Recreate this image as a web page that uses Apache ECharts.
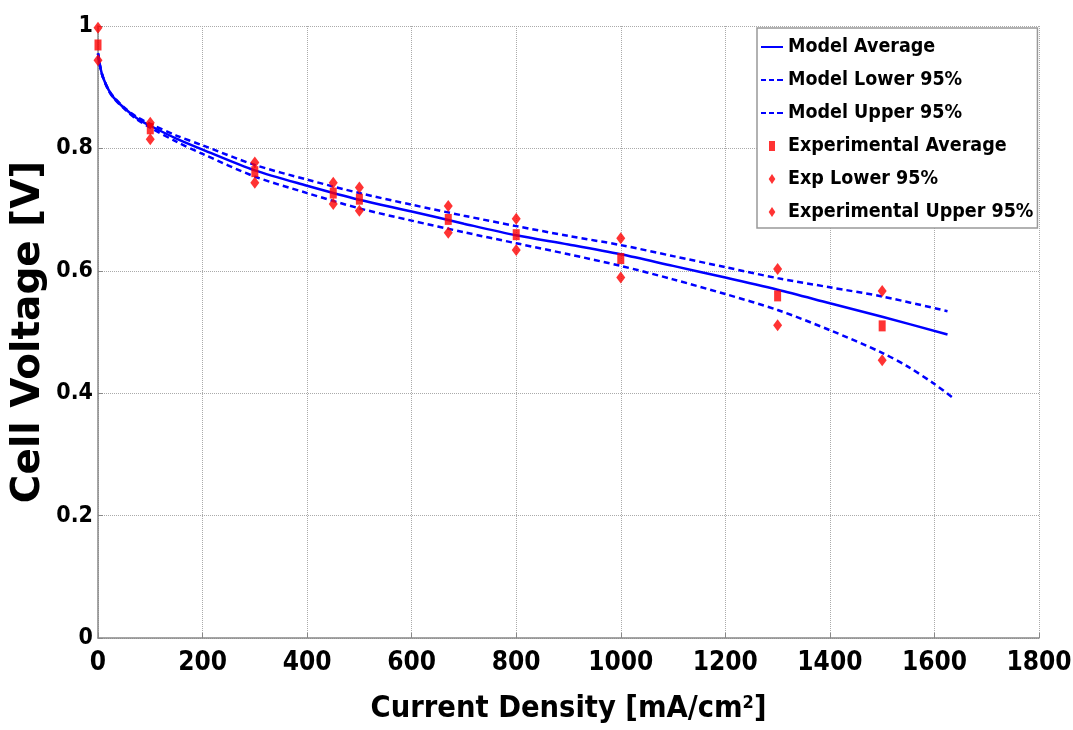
<html>
<head>
<meta charset="utf-8">
<script src="https://cdn.jsdelivr.net/npm/echarts@6/dist/echarts.min.js"></script>
</head>
<body style="margin:0">
<div id="polarization" style="width: 1073px; height: 730px;"></div>

<script type="text/javascript">

// model curves
var modelX     = [0, 5, 10, 20, 30, 50, 75, 100, 150, 200, 300, 400, 500, 600, 700, 800, 900, 1000, 1100, 1200, 1300, 1400, 1500, 1625];
var modelAvg   = [0.955, 0.93, 0.915, 0.896, 0.883, 0.866, 0.849, 0.837, 0.816, 0.798, 0.764, 0.739, 0.716, 0.697, 0.677, 0.658, 0.643, 0.627, 0.608, 0.589, 0.569, 0.547, 0.525, 0.496];
var modelUpX   = [0, 5, 10, 20, 30, 50, 75, 100, 150, 200, 300, 400, 500, 600, 700, 800, 900, 1000, 1100, 1200, 1300, 1400, 1500, 1625];
var modelUpper = [0.955, 0.93, 0.915, 0.896, 0.884, 0.867, 0.851, 0.840, 0.821, 0.805, 0.773, 0.749, 0.727, 0.708, 0.690, 0.673, 0.657, 0.642, 0.624, 0.606, 0.588, 0.573, 0.558, 0.534];
var modelLoX   = [0, 5, 10, 20, 30, 50, 75, 100, 150, 200, 300, 400, 500, 600, 700, 800, 900, 1000, 1100, 1200, 1300, 1400, 1500, 1550, 1600, 1636];
var modelLower = [0.955, 0.93, 0.915, 0.895, 0.882, 0.865, 0.847, 0.834, 0.811, 0.791, 0.754, 0.727, 0.702, 0.682, 0.663, 0.645, 0.627, 0.608, 0.586, 0.562, 0.536, 0.503, 0.466, 0.443, 0.415, 0.392];

// experimental points
var expX     = [0, 100, 300, 450, 500, 670, 800, 1000, 1300, 1500];
var expAvg   = [0.969, 0.832, 0.762, 0.727, 0.717, 0.684, 0.659, 0.620, 0.559, 0.510];
var expLower = [0.944, 0.815, 0.744, 0.709, 0.698, 0.662, 0.634, 0.589, 0.511, 0.454];
var expUpper = [0.997, 0.842, 0.777, 0.744, 0.736, 0.706, 0.685, 0.653, 0.603, 0.567];

function pairs(xs, ys) {
  return xs.map(function (x, i) { return [x, ys[i]]; });
}

var chartDom = document.getElementById('polarization');
var myChart = echarts.init(chartDom);

var blue = '#0000ff';
var red = '#ff0000';
var narrow = '"DejaVu Sans Condensed", "DejaVu Sans", sans-serif';

// legend glyphs
var solidIcon = 'path://M0,0h22v2h-22z';
var dashIcon = 'path://M0,0h5v2h-5zM8,0h5v2h-5zM16,0h6v2h-6z';
var rectIcon = 'path://M0,0h6v10h-6z';
var diamondIcon = 'path://M4,0L8,6L4,12L0,6z';

var option = {
  animation: false,
  grid: { left: 98, right: 34, top: 26, bottom: 92, outerBoundsMode: 'none' },
  legend: {
    orient: 'vertical',
    left: 757,
    top: 28,
    padding: [9, 4, 6, 4],
    itemGap: 13,
    itemWidth: 22,
    itemHeight: 10,
    borderColor: '#999',
    borderWidth: 1.5,
    backgroundColor: '#fff',
    textStyle: { fontFamily: narrow, fontWeight: 'bold', fontSize: 19.5, color: '#000' },
    data: [
      { name: 'Model Average', icon: solidIcon },
      { name: 'Model Lower 95%', icon: dashIcon },
      { name: 'Model Upper 95%', icon: dashIcon },
      { name: 'Experimental Average', icon: rectIcon },
      { name: 'Exp Lower 95%', icon: diamondIcon },
      { name: 'Experimental Upper 95%', icon: diamondIcon }
    ]
  },
  xAxis: {
    type: 'value',
    min: 0,
    max: 1800,
    interval: 200,
    name: 'Current Density [mA/cm{sup|2}]',
    nameLocation: 'middle',
    nameGap: 56,
    nameMoveOverlap: false,
    nameTextStyle: {
      fontFamily: narrow, fontWeight: 'bold', fontSize: 30.5, color: '#000',
      rich: { sup: { fontFamily: narrow, fontWeight: 'bold', fontSize: 18, color: '#000', verticalAlign: 'top', padding: [0, 0, 12, 0] } }
    },
    axisLine: { lineStyle: { color: '#888', width: 1.5 } },
    axisTick: { inside: true, length: 5, lineStyle: { color: '#888' } },
    axisLabel: {
      fontFamily: narrow, fontWeight: 'bold', fontSize: 26, color: '#000', margin: 12,
      formatter: function (v) { return String(v); }
    },
    splitLine: { show: true, lineStyle: { color: '#aaa', type: 'dotted', width: 1 } }
  },
  yAxis: {
    type: 'value',
    min: 0,
    max: 1,
    interval: 0.2,
    name: 'Cell Voltage [V]',
    nameLocation: 'middle',
    nameGap: 50,
    nameMoveOverlap: false,
    nameTextStyle: { fontFamily: '"DejaVu Sans", sans-serif', fontWeight: 'bold', fontSize: 39, color: '#000' },
    axisLine: { show: true, lineStyle: { color: '#888', width: 1.5 } },
    axisTick: { show: true, inside: true, length: 5, lineStyle: { color: '#888' } },
    axisLabel: {
      fontFamily: narrow, fontWeight: 'bold', fontSize: 23, color: '#000', margin: 5,
      formatter: function (v) { return String(+v.toFixed(1)); }
    },
    splitLine: { show: true, lineStyle: { color: '#aaa', type: 'dotted', width: 1 } }
  },
  series: [
    {
      name: 'Model Average', type: 'line', smooth: 0.3, symbol: 'none',
      data: pairs(modelX, modelAvg),
      itemStyle: { color: blue },
      lineStyle: { color: blue, width: 2.5 }
    },
    {
      name: 'Model Lower 95%', type: 'line', smooth: 0.3, symbol: 'none',
      data: pairs(modelLoX, modelLower),
      itemStyle: { color: blue },
      lineStyle: { color: blue, width: 2.5, type: [6, 4] }
    },
    {
      name: 'Model Upper 95%', type: 'line', smooth: 0.3, symbol: 'none',
      data: pairs(modelUpX, modelUpper),
      itemStyle: { color: blue },
      lineStyle: { color: blue, width: 2.5, type: [6, 4] }
    },
    {
      name: 'Experimental Average', type: 'scatter', symbol: 'rect', symbolSize: [7, 11],
      data: pairs(expX, expAvg),
      itemStyle: { color: red }, z: 5
    },
    {
      name: 'Exp Lower 95%', type: 'scatter', symbol: 'diamond', symbolSize: [9, 12],
      data: pairs(expX, expLower),
      itemStyle: { color: red }, z: 5
    },
    {
      name: 'Experimental Upper 95%', type: 'scatter', symbol: 'diamond', symbolSize: [9, 12],
      data: pairs(expX, expUpper),
      itemStyle: { color: red }, z: 5
    }
  ]
};

option && myChart.setOption(option);

</script>
</body>
</html>
